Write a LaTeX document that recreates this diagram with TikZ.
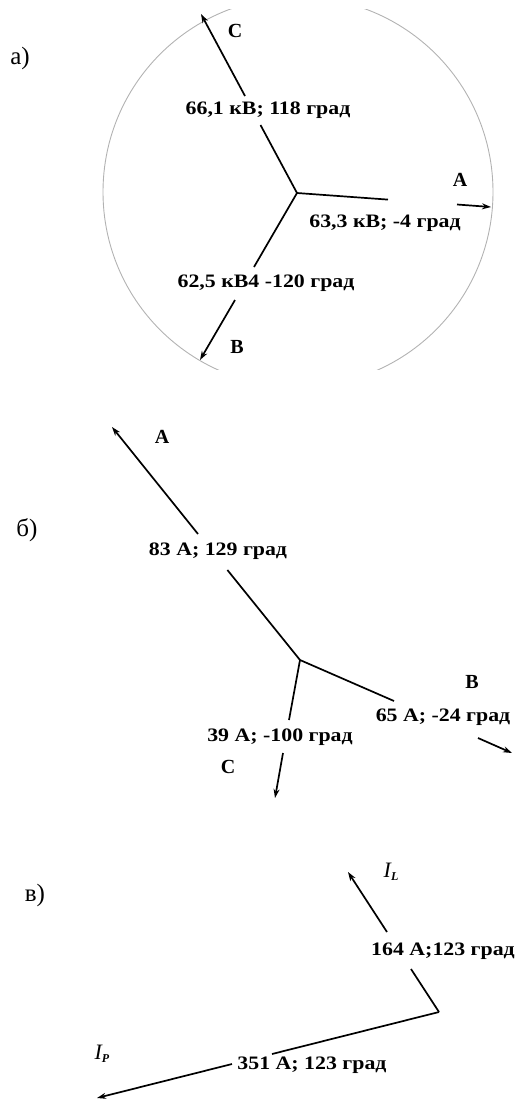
\documentclass[tikz,border=0pt]{standalone}
\usepackage{fontspec}
\setmainfont{Liberation Serif}
\newfontfamily\valfont[FakeStretch=1.15]{Liberation Serif Bold}
\usetikzlibrary{arrows.meta}

\tikzset{
  vec/.style={line width=1.7pt,-{Stealth[length=9pt,width=6pt]}},
  seg/.style={line width=1.7pt},
  val/.style={font=\valfont\fontsize{19}{19}\selectfont,inner sep=0pt},
  phase/.style={font=\bfseries\fontsize{20}{20}\selectfont,inner sep=0pt},
  part/.style={font=\fontsize{25}{25}\selectfont,inner sep=0pt},
  cur/.style={font=\itshape\fontsize{22}{22}\selectfont,inner sep=0pt},
}
\newcommand{\subidx}[1]{\raisebox{-0.3ex}{\bfseries\fontsize{12}{12}\selectfont #1}}

\begin{document}
\begin{tikzpicture}[x=1pt,y=-1pt]
  \useasboundingbox (0,0) rectangle (524,1101);
  % а) voltages
  \node[part] (pa) at (20,58) {а)};
  \begin{scope}
    \clip (0,9) rectangle (524,369);
    \draw[gray!60,line width=0.9pt] (298,192) circle[radius=195pt];
  \end{scope}
  \coordinate (Oa) at (297,193);
  \coordinate (UAa) at (388,199.6);  \coordinate (UAb) at (457,204.5); \coordinate (UA) at (491,207);
  \coordinate (UBa) at (254,267);    \coordinate (UBb) at (235,300);   \coordinate (UB) at (200,360);
  \coordinate (UCa) at (260.5,125);  \coordinate (UCb) at (245,96);    \coordinate (UC) at (201,14);
  \draw[seg] (Oa) -- (UAa);  \draw[vec] (UAb) -- (UA);
  \draw[seg] (Oa) -- (UBa);  \draw[vec] (UBb) -- (UB);
  \draw[seg] (Oa) -- (UCa);  \draw[vec] (UCb) -- (UC);
  \node[val] (uc) at (268,110) {66,1 кВ; 118 град};
  \node[val] (ua) at (385,223) {63,3 кВ; -4 град};
  \node[val] (ub) at (266,283) {62,5 кВ4 -120 град};
  \node[phase] (pA) at (460,180) {А};
  \node[phase] (pB) at (237,347) {В};
  \node[phase] (pC) at (235,31) {С};

  % б) currents
  \node[part] (pb) at (27,530) {б)};
  \coordinate (Ob) at (300,660);
  \coordinate (IAa) at (227.4,570);  \coordinate (IAb) at (198,534);   \coordinate (IA) at (112,427);
  \coordinate (IBa) at (394,701);    \coordinate (IBb) at (478,738);   \coordinate (IB) at (512,753);
  \coordinate (ICa) at (289,720);    \coordinate (ICb) at (283,753);   \coordinate (IC) at (275,798);
  \draw[seg] (Ob) -- (IAa);  \draw[vec] (IAb) -- (IA);
  \draw[seg] (Ob) -- (IBa);  \draw[vec] (IBb) -- (IB);
  \draw[seg] (Ob) -- (ICa);  \draw[vec] (ICb) -- (IC);
  \node[val] (ia) at (218,551) {83 A; 129 град};
  \node[val] (ib) at (443,717) {65 A; -24 град};
  \node[val] (ic) at (280,737) {39 A; -100 град};
  \node[phase] (qA) at (162,437) {А};
  \node[phase] (qB) at (472,682) {В};
  \node[phase] (qC) at (228,767) {С};

  % в) line and load currents
  \node[part] (pc) at (35,895) {в)};
  \coordinate (Oc) at (439,1012);
  \coordinate (ILa) at (411,969);    \coordinate (ILb) at (387,932);   \coordinate (IL) at (348,872);
  \coordinate (IPa) at (272,1054);   \coordinate (IPb) at (232,1064);  \coordinate (IP) at (97,1098);
  \draw[seg] (Oc) -- (ILa);  \draw[vec] (ILb) -- (IL);
  \draw[seg] (Oc) -- (IPa);  \draw[vec] (IPb) -- (IP);
  \node[val] (il) at (443,951) {164 A;123 град};
  \node[val] (ip) at (312,1065) {351 A; 123 град};
  \node[cur] (nL) at (391,872) {I\subidx{L}};
  \node[cur] (nP) at (102,1054) {I\subidx{P}};
\end{tikzpicture}
\end{document}
